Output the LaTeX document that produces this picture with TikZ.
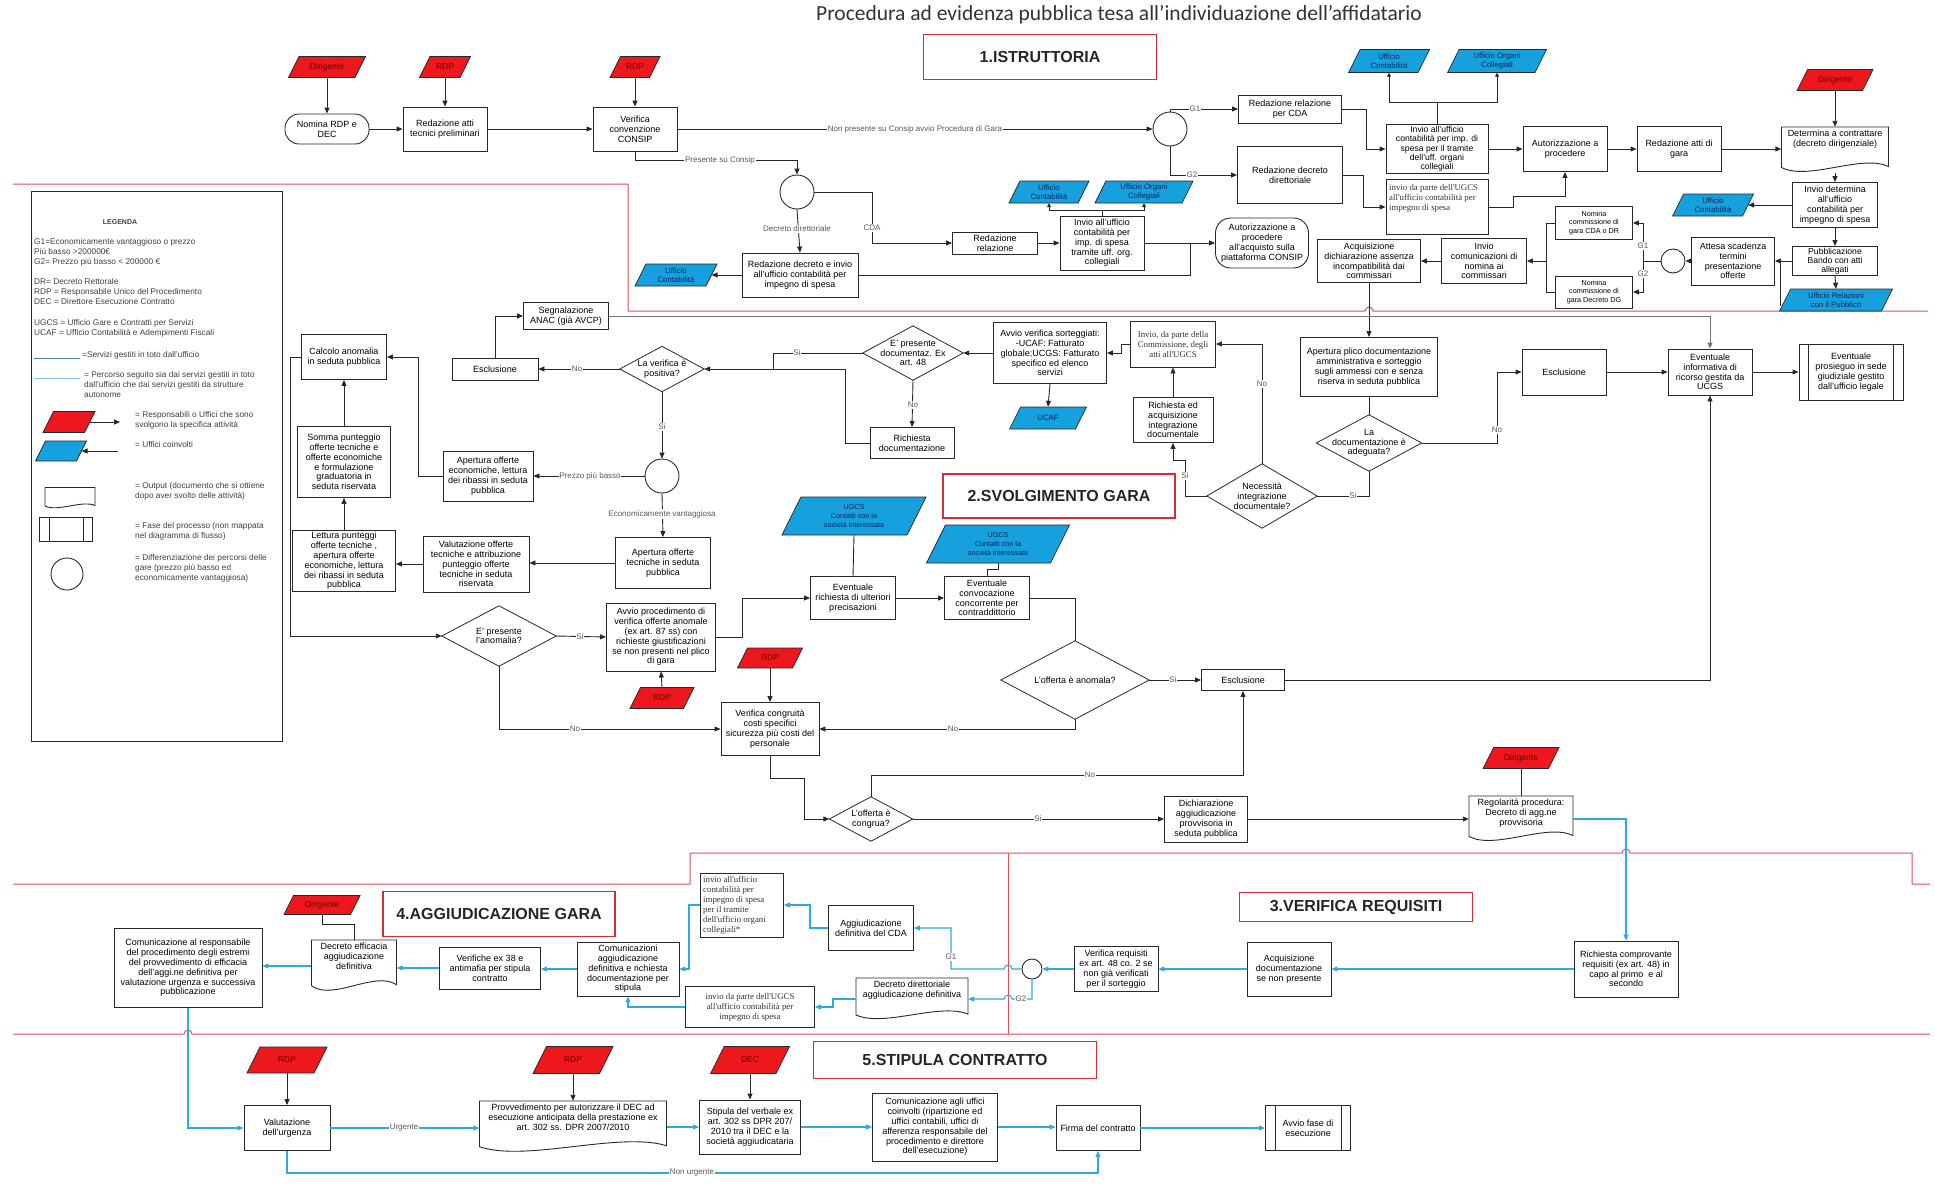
\documentclass[tikz,border=0pt]{standalone}
\usepackage{fontspec}
\setmainfont{Liberation Sans}
\newfontfamily\serifbox{Liberation Serif}
\newfontfamily\titlefont{Carlito}
\usetikzlibrary{arrows.meta,calc}

\definecolor{parred}{RGB}{236,24,30}
\definecolor{parblue}{RGB}{22,160,222}
\definecolor{redtext}{RGB}{110,0,0}
\definecolor{bluetext}{RGB}{10,40,90}
\definecolor{flowblue}{RGB}{45,170,222}
\definecolor{secred}{RGB}{226,78,88}
\definecolor{labred}{RGB}{212,45,55}
\definecolor{inkgray}{RGB}{40,40,40}
\definecolor{legblue}{RGB}{80,120,185}
\definecolor{legcyan}{RGB}{140,195,235}

\tikzset{
  wh/.style 2 args={minimum width=#1pt, minimum height=#2pt},
  boxfont/.style={font=\fontsize{9}{9.8}\selectfont},
  box/.style={draw=inkgray, line width=0.9pt, fill=white, align=center, inner sep=1pt, boxfont},
  small/.style={font=\fontsize{7.2}{8.6}\selectfont},
  circ/.style={draw=inkgray, line width=0.9pt, circle, inner sep=0pt, fill=white},
  ln/.style={draw=inkgray, line width=0.9pt},
  arr/.style={ln, -{Triangle[length=6pt,width=5pt]}},
  sarr/.style={ln, -{Triangle[length=4pt,width=4pt]}},
  bl/.style={draw=flowblue, line width=1.1pt},
  barr/.style={bl, -{Triangle[length=6pt,width=5pt]}},
  lbl/.style={fill=white, inner sep=0.8pt, font=\fontsize{8}{8.5}\selectfont, text=black!65},
  seclab/.style={draw=labred, line width=1.2pt, fill=white, font=\bfseries\fontsize{16}{18}\selectfont, text=black!85},
  secline/.style={draw=secred, line width=1pt},
  redtxt/.style={text=redtext, font=\fontsize{8.5}{9.5}\selectfont},
  bluetxt/.style={text=bluetext, font=\fontsize{7.8}{8.8}\selectfont},
  ugcstxt/.style={text=bluetext, font=\fontsize{7.2}{8.6}\selectfont},
  sertxt/.style={font=\serifbox\fontsize{8.8}{10}\selectfont, text=black!80, inner sep=0pt, align=left},
  legt/.style={font=\fontsize{8.3}{10}\selectfont, text=black!75, align=left, inner sep=0pt, anchor=west},
}

% parallelogram: name, cx, cy, width, height, fill colour, text style, text
\newcommand\mkpara[8]{%
  \filldraw[fill=#6, draw=inkgray, line width=0.7pt]
    ({#2-#4/2},{#3+#5/2}) -- ({#2-#4/2+#5/2},{#3-#5/2}) -- ({#2+#4/2},{#3-#5/2}) -- ({#2+#4/2-#5/2},{#3+#5/2}) -- cycle;
  \node[#7, align=center, inner sep=0pt, wh={#4}{#5}] (#1) at (#2,#3) {#8};
  \coordinate (#1-e) at ({#2+#4/2-#5/4},#3);
  \coordinate (#1-w) at ({#2-#4/2+#5/4},#3);
}
% document shape with wavy bottom: name, cx, cy, width, height, text
\newcommand\mkdoc[6]{%
  \draw[ln, fill=white] ({#2-#4/2},{#3-#5/2}) -- ({#2+#4/2},{#3-#5/2}) -- ({#2+#4/2},{#3+#5/2-0.14*#5})
     .. controls ({#2+#4/4},{#3+#5/2-0.42*#5}) and ({#2-#4/4},{#3+#5/2+0.18*#5}) .. ({#2-#4/2},{#3+#5/2-0.12*#5}) -- cycle;
  \node[inner sep=0pt, wh={#4}{#5}] (#1) at (#2,#3) {};
  \node[boxfont, align=center, inner sep=0pt, anchor=north] at (#2,{#3-#5/2+3}) {#6};
}
% decision diamond: name, cx, cy, width, height, text
\newcommand\mkdiam[6]{%
  \node[inner sep=0pt, wh={#4}{#5}, align=center, boxfont] (#1) at (#2,#3) {#6};
  \draw[ln, line width=0.8pt] (#1.north) -- (#1.east) -- (#1.south) -- (#1.west) -- cycle;
}
% predefined process: name, cx, cy, width, height, text
\newcommand\mkpredef[6]{%
  \node[box, wh={#4}{#5}] (#1) at (#2,#3) {#6};
  \draw[ln] ([xshift=10pt]#1.north west) -- ([xshift=10pt]#1.south west);
  \draw[ln] ([xshift=-10pt]#1.north east) -- ([xshift=-10pt]#1.south east);
}

\begin{document}
\begin{tikzpicture}[x=1pt,y=-1pt]
\path[use as bounding box] (0,0) rectangle (1935,1183);
\fill[white] (0,0) rectangle (1935,1183);

% ---------- section boundaries ----------
\draw[secline] (13,184) -- (628,184) -- (628,311) -- (1365,311) arc[start angle=180,end angle=0,radius=4pt] -- (1928,311);
\draw[secline] (13,884) -- (690,884) -- (690,853) -- (1622,853) arc[start angle=180,end angle=0,radius=4pt] -- (1912,853) -- (1912,884) -- (1930,884);
\draw[secline] (1008,853) -- (1008,1034);
\draw[secline] (13,1034) -- (184,1034) arc[start angle=180,end angle=0,radius=4pt] -- (1930,1034);

% ---------- title and phase labels ----------
\node[font=\titlefont\fontsize{21.5}{23}\selectfont, text=black!80] (title) at (1119,15) {Procedura ad evidenza pubblica tesa all’individuazione dell’affidatario};
\node[seclab, wh={233}{45}] (lab1) at (1040,57) {1.ISTRUTTORIA};

% ---------- legend ----------
\node[draw=inkgray, line width=1pt, wh={251}{550}] (legend) at (156.5,466) {};
\node[font=\bfseries\fontsize{7}{8}\selectfont, text=black!75] (legtitle) at (120,222) {LEGENDA};
\node[legt] (lg1) at (34,252) {G1=Economicamente vantaggioso o prezzo\\Più basso >200000€\\G2= Prezzo più basso < 200000 €};
\node[legt] (lg2) at (34,292) {DR= Decreto Rettorale\\RDP = Responsabile Unico del Procedimento\\DEC = Direttore Esecuzione Contratto};
\node[legt] (lg3) at (34,328.5) {UGCS = Ufficio Gare e Contratti per Servizi\\UCAF = Ufficio Contabilità e Adempimenti Fiscali};
\draw[draw=legblue, line width=0.8pt] (34,358) -- (80,358);
\node[legt] (lg4) at (82,355) {=Servizi gestiti in toto dall'ufficio};
\draw[draw=legcyan, line width=0.8pt] (34,378) -- (80,378);
\node[legt] (lg5) at (84,385) {= Percorso seguito sia dai servizi gestiti in toto\\dall'ufficio che dai servizi gestiti da strutture\\autonome};
\mkpara{legr}{69}{422}{52}{21}{parred}{redtxt}{}
\draw[arr] (legr-e) -- (120,422);
\node[legt] (lg6) at (135,420) {= Responsabili o Uffici che sono\\svolgono la specifica attività};
\mkpara{legb}{61}{451}{51}{20}{parblue}{bluetxt}{}
\draw[arr] (118,451) -- (legb-e);
\node[legt] (lg7) at (135,445) {= Uffici coinvolti};
\mkdoc{legd}{70}{498}{50}{21}{}
\node[legt] (lg8) at (135,491) {= Output (documento che si ottiene\\dopo aver svolto delle attività)};
\mkpredef{legp}{66}{529}{53}{24}{}
\node[legt] (lg9) at (135,531) {= Fase del processo (non mappata\\nel diagramma di flusso)};
\node[circ, minimum size=32pt] (legc) at (67,574) {};
\node[legt] (lg10) at (135,568) {= Differenziazione dei percorsi delle\\gare (prezzo più basso ed\\economicamente vantaggiosa)};

% ---------- 1. istruttoria ----------
\mkpara{dirA}{327}{67}{77}{21}{parred}{redtxt}{Dirigente}
\mkpara{rdpA}{445}{67}{51}{21}{parred}{redtxt}{RDP}
\node[box, wh={84}{30}, rounded corners=14pt] (nomina) at (327,129) {Nomina RDP e\\DEC};
\node[box, wh={84}{44}] (redatti) at (445,129) {Redazione atti\\tecnici preliminari};
\mkpara{rdpB}{635}{67}{50}{21}{parred}{redtxt}{RDP}
\node[box, wh={84}{44}] (consip) at (635,129) {Verifica\\convenzione\\CONSIP};
\node[circ, minimum size=34pt] (cA) at (1170,129) {};
\node[circ, minimum size=34pt] (cB) at (797,192) {};
\node[box, wh={116}{44}] (reddec) at (800,275) {Redazione decreto e invio\\all'ufficio contabilità per\\impegno di spesa};
\mkpara{ucA}{676}{275}{82}{22}{parblue}{bluetxt}{Ufficio\\Contabilità}
\node[box, wh={85}{22}] (redrel) at (995,243) {Redazione\\relazione};
\node[box, wh={84}{54}] (invcoll) at (1102,243) {Invio all'ufficio\\contabilità per\\imp. di spesa\\tramite uff. org.\\collegiali};
\mkpara{ucB}{1049}{192}{80}{22}{parblue}{bluetxt}{Ufficio\\Contabilità}
\mkpara{uoB}{1144}{192}{98}{22}{parblue}{bluetxt}{Ufficio Organi\\Collegiali}
\node[box, wh={93}{50}, rounded corners=15pt] (autcons) at (1262,243) {Autorizzazione a\\procedere\\all'acquisto sulla\\piattaforma CONSIP};
\node[box, wh={103}{28}] (relcda) at (1290,109) {Redazione relazione\\per CDA};
\node[box, wh={105}{57}] (decdir) at (1290,175) {Redazione decreto\\direttoriale};
\node[box, wh={102}{49}, font=\fontsize{8.6}{9.3}\selectfont] (invorg) at (1437,149) {Invio all'ufficio\\contabilità per imp. di\\spesa per il tramite\\dell'uff. organi\\collegiali};
\mkpara{ucC}{1389}{61}{81}{23}{parblue}{bluetxt}{Ufficio\\Contabilità}
\mkpara{uoC}{1497}{61}{99}{23}{parblue}{bluetxt}{Ufficio Organi\\Collegiali}
\node[box, wh={102}{55}] (invugcs) at (1437,207) {};
\node[sertxt, anchor=north west] (invugcst) at (1389,184) {invio da parte dell'UGCS\\all'ufficio contabilità per\\impegno di spesa};
\node[box, wh={84}{45}] (autproc) at (1565,149) {Autorizzazione a\\procedere};
\node[box, wh={84}{45}] (redgara) at (1679,149) {Redazione atti di\\gara};
\mkpara{dirB}{1835}{80}{76}{21}{parred}{redtxt}{Dirigente}
\mkdoc{determ}{1835}{150}{107}{46}{Determina a contrattare\\(decreto dirigenziale)}
\node[box, wh={85}{45}] (invdet) at (1835,205) {Invio determina\\all'ufficio\\contabilità per\\impegno di spesa};
\mkpara{ucD}{1713}{205}{81}{22}{parblue}{bluetxt}{Ufficio\\Contabilità}
\node[box, wh={85}{29}, font=\fontsize{8.6}{9.2}\selectfont] (pubbl) at (1835,261) {Pubblicazione\\Bando con atti\\allegati};
\mkpara{urp}{1836}{300}{113}{22}{parblue}{bluetxt}{Ufficio Relazioni\\con il Pubblico}
\node[box, wh={83}{48}] (attesa) at (1733,261) {Attesa scadenza\\termini\\presentazione\\offerte};
\node[circ, minimum size=24pt] (cC) at (1673,261) {};
\node[box, small, wh={77}{33}] (nomcda) at (1594,223) {Nomina\\commissione di\\gara CDA o DR};
\node[box, small, wh={77}{32}] (nomdg) at (1594,292) {Nomina\\commissione di\\gara Decreto DG};
\node[box, wh={85}{45}] (invcom) at (1484,261) {Invio\\comunicazioni di\\nomina ai\\commissari};
\node[box, wh={103}{43}] (acqdich) at (1369,261) {Acquisizione\\dichiarazione assenza\\incompatibilità dai\\commissari};

% ---------- 2. svolgimento gara ----------
\node[box, wh={85}{27}] (segn) at (566,316) {Segnalazione\\ANAC (già AVCP)};
\node[box, wh={86}{22}] (escla) at (495,369) {Esclusione};
\mkdiam{dverif}{662}{369}{84}{45}{La verifica è\\positiva?}
\mkdiam{dpres}{913}{353}{100}{54}{E' presente\\documentaz. Ex\\art. 48}
\node[box, wh={84}{31}] (richdoc) at (912,443) {Richiesta\\documentazione};
\node[box, wh={113}{61}] (avviover) at (1050,353) {Avvio verifica sorteggiati:\\-UCAF: Fatturato\\globale;UCGS: Fatturato\\specifico ed elenco\\servizi};
\mkpara{ucaf}{1048}{418}{77}{22}{parblue}{bluetxt}{UCAF}
\node[box, sertxt, align=center, wh={85}{46}] (invcomm) at (1173,344) {Invio, da parte della\\Commissione, degli\\atti all'UGCS};
\node[box, wh={80}{45}] (richint) at (1173,420) {Richiesta ed\\acquisizione\\integrazione\\documentale};
\mkdiam{dnec}{1262}{496}{110}{64}{Necessità\\integrazione\\documentale?}
\mkdiam{ddoc}{1369}{443}{105}{56}{La\\documentazione è\\adeguata?}
\node[box, wh={137}{59}] (aperplico) at (1369,367) {Apertura plico documentazione\\amministrativa e sorteggio\\sugli ammessi con e senza\\riserva in seduta pubblica};
\node[box, wh={84}{46}] (esclb) at (1564,372) {Esclusione};
\node[box, wh={84}{46}] (evinf) at (1710,372) {Eventuale\\informativa di\\ricorso gestita da\\UCGS};
\mkpredef{evpros}{1851}{372}{104}{56}{Eventuale\\prosieguo in sede\\giudiziale gestito\\dall'ufficio legale}
\node[box, wh={85}{45}] (calcolo) at (344,357) {Calcolo anomalia\\in seduta pubblica};
\node[box, wh={93}{71}] (somma) at (344,462) {Somma punteggio\\offerte tecniche e\\offerte economiche\\e formulazione\\graduatoria in\\seduta riservata};
\node[box, wh={103}{61}] (lettura) at (344,561) {Lettura punteggi\\offerte tecniche ,\\apertura offerte\\economiche, lettura\\dei ribassi in seduta\\pubblica};
\node[box, wh={106}{56}] (valut) at (476,564) {Valutazione offerte\\tecniche e attribuzione\\punteggio offerte\\tecniche in seduta\\riservata};
\node[box, wh={90}{50}] (aperecon) at (488,476) {Apertura offerte\\economiche, lettura\\dei ribassi in seduta\\pubblica};
\node[circ, minimum size=34pt] (cD) at (662,476) {};
\node[box, wh={95}{51}] (apertec) at (663,563) {Apertura offerte\\tecniche in seduta\\pubblica};
\mkdiam{danom}{499}{636}{114}{60}{E' presente\\l'anomalia?}
\node[box, wh={109}{68}] (avvioproc) at (661,637) {Avvio procedimento di\\verifica offerte anomale\\(ex art. 87 ss) con\\richieste giustificazioni\\se non presenti nel plico\\di gara};
\mkpara{rdpC}{662}{698}{64}{21}{parred}{redtxt}{RDP}
\node[box, wh={98}{53}] (vcong) at (770,729) {Verifica congruità\\costi specifici\\sicurezza più costi del\\personale};
\mkpara{rdpD}{770}{658}{65}{20}{parred}{redtxt}{RDP}
\node[box, wh={85}{43}] (evrich) at (853,598) {Eventuale\\richiesta di ulteriori\\precisazioni};
\mkpara{ugcsA}{854}{516}{144}{38}{parblue}{ugcstxt}{UGCS\\Contatti con la\\società interessata}
\node[box, wh={85}{43}] (evconv) at (987,598) {Eventuale\\convocazione\\concorrente per\\contraddittorio};
\mkpara{ugcsB}{998}{544}{143}{38}{parblue}{ugcstxt}{UGCS\\Contatti con la\\società interessata}
\node[seclab, wh={232}{44}] (lab2) at (1059,496) {2.SVOLGIMENTO GARA};
\mkdiam{danml}{1075}{680}{148}{78}{L'offerta è anomala?}
\node[box, wh={83}{21}] (esclc) at (1243,680) {Esclusione};
\mkdiam{dcong}{871}{819}{83}{44}{L'offerta è\\congrua?}
\node[box, wh={83}{46}] (dichagg) at (1206,819) {Dichiarazione\\aggiudicazione\\provvisoria in\\seduta pubblica};
\mkdoc{regol}{1521}{819}{104}{46}{Regolarità procedura:\\Decreto di agg.ne\\provvisoria}
\mkpara{dirC}{1521}{758}{76}{21}{parred}{redtxt}{Dirigente}

% ---------- 3. verifica requisiti ----------
\node[seclab, wh={233}{29}] (lab3) at (1356,907) {3.VERIFICA REQUISITI};
\node[box, wh={104}{56}] (richcomp) at (1626,969) {Richiesta comprovante\\requisiti (ex art. 48) in\\capo al primo\ \ e al\\secondo};
\node[box, wh={84}{54}] (acqdoc) at (1289,969) {Acquisizione\\documentazione\\se non presente};
\node[box, wh={84}{45}] (verreq) at (1116,969) {Verifica requisiti\\ex art. 48 co. 2 se\\non già verificati\\per il sorteggio};
\node[circ, minimum size=20pt] (cE) at (1032,969) {};

% ---------- 4. aggiudicazione gara ----------
\node[seclab, wh={232}{45}] (lab4) at (499,914) {4.AGGIUDICAZIONE GARA};
\node[box, wh={85}{45}] (aggcda) at (871,928) {Aggiudicazione\\definitiva del CDA};
\node[box, wh={83}{64}] (invorgb) at (742,905) {};
\node[sertxt, anchor=north west] (invorgbt) at (703,876) {invio all'ufficio\\contabilità per\\impegno di spesa\\per il tramite\\dell'ufficio organi\\collegiali*};
\mkdoc{decdirb}{912}{999}{112}{42}{Decreto direttoriale\\aggiudicazione definitiva}
\node[box, sertxt, align=center, wh={129}{41}] (invugcsb) at (750,1007) {invio da parte dell'UGCS\\all'ufficio contabilità per\\impegno di spesa};
\node[box, wh={102}{54}] (comagg) at (628,969) {Comunicazioni\\aggiudicazione\\definitiva e richiesta\\documentazione per\\stipula};
\node[box, wh={101}{42}] (verif38) at (490,968) {Verifiche ex 38 e\\antimafia per stipula\\contratto};
\mkdoc{decreff}{354}{966}{85}{52}{Decreto efficacia\\aggiudicazione\\definitiva}
\mkpara{dirD}{322}{905}{76}{19}{parred}{redtxt}{Dirigente}
\node[box, wh={148}{79}] (comresp) at (188,968) {Comunicazione al responsabile\\del procedimento degli estremi\\del provvedimento di efficacia\\dell'aggi.ne definitiva per\\valutazione urgenza e successiva\\pubblicazione};

% ---------- 5. stipula contratto ----------
\node[seclab, wh={283}{37}] (lab5) at (955,1060) {5.STIPULA CONTRATTO};
\node[box, wh={86}{45}] (valurg) at (287,1128) {Valutazione\\dell'urgenza};
\mkpara{rdpE}{287}{1060}{80}{26}{parred}{redtxt}{RDP}
\mkdoc{provv}{573}{1127}{187}{52}{Provvedimento per autorizzare il DEC ad\\esecuzione anticipata della prestazione ex\\art. 302 ss. DPR 2007/2010}
\mkpara{rdpF}{573}{1060}{80}{27}{parred}{redtxt}{RDP}
\node[box, wh={101}{54}] (stipula) at (750,1127) {Stipula del verbale ex\\art. 302 ss DPR 207/\\2010 tra il DEC e la\\società aggiudicataria};
\mkpara{decA}{750}{1060}{79}{27}{parred}{redtxt}{DEC}
\node[box, wh={125}{68}] (comuff) at (935,1127) {Comunicazione agli uffici\\coinvolti (ripartizione ed\\uffici contabili, uffici di\\afferenza responsabile del\\procedimento e direttore\\dell'esecuzione)};
\node[box, wh={84}{45}] (firma) at (1098,1128) {Firma del contratto};
\mkpredef{avvfase}{1308}{1128}{85}{45}{Avvio fase di\\esecuzione}

% ---------- connectors: 1 ----------
\draw[arr] (dirA.south) -- (nomina.north);
\draw[arr] (rdpA.south) -- (redatti.north);
\draw[arr] (nomina.east) -- (redatti.west);
\draw[arr] (redatti.east) -- (consip.west);
\draw[arr] (rdpB.south) -- (consip.north);
\draw[arr] (consip.east) -- (cA.west);
\draw[arr] (consip.south) -- (635,160) -| (cB.north);
\draw[arr] (cB.south) -- (reddec.north);
\draw[arr] (cB.east) -- (872,192) |- (redrel.west);
\draw[arr] (reddec.west) -- (ucA-e);
\draw[ln] (reddec.east) -- (1190,275) -- (1190,243);
\draw[arr] (redrel.east) -- (invcoll.west);
\draw[arr] (invcoll.east) -- (autcons.west);
\draw[ln] (invcoll.north) -- (1102,210);
\draw[sarr] (1102,210) -| (ucB.south);
\draw[sarr] (1102,210) -| (uoB.south);
\draw[arr] (cA.north) |- (relcda.west);
\draw[arr] (cA.south) |- (decdir.west);
\draw[arr] (relcda.east) -- (1366,109) |- (invorg.west);
\draw[arr] (decdir.east) -- (1363,175) |- (invugcs.west);
\draw[ln] (invorg.north) -- (1437,102);
\draw[sarr] (1437,102) -| (ucC.south);
\draw[sarr] (1437,102) -| (uoC.south);
\draw[arr] (invorg.east) -- (autproc.west);
\draw[arr] (invugcs.east) -- (1513,207) -- (1513,196) -| (autproc.south);
\draw[arr] (autproc.east) -- (redgara.west);
\draw[arr] (redgara.east) -- (redgara.east -| determ.west);
\draw[arr] (dirB.south) -- (determ.north);
\draw[arr] (determ.south) -- (invdet.north);
\draw[arr] (invdet.west) -- (ucD-e);
\draw[arr] (invdet.south) -- (pubbl.north);
\draw[arr] (pubbl.west) -- (attesa.east);
\draw[arr] (pubbl.south) -- (urp.north);
\draw[ln] (1780,261) -- (1780,306);
\draw[arr] (attesa.west) -- (cC.east);
\draw[ln] (cC.west) -- (1643,261);
\draw[arr] (1643,261) |- (nomcda.east);
\draw[arr] (1643,261) |- (nomdg.east);
\draw[ln] (nomcda.west) -- (1546,223) |- (nomdg.west);
\draw[arr] (1546,261) -- (invcom.east);
\draw[arr] (invcom.west) -- (acqdich.east);
\draw[arr] (acqdich.south) -- (aperplico.north);

% ---------- connectors: 2 ----------
\draw[arr, draw=black!55] (segn.east) -| (evinf.north);
\draw[arr] (escla.north) |- (segn.west);
\draw[arr] (dverif.west) -- (escla.east);
\draw[ln] (dpres.west) -- (773,353) -- (773,369);
\draw[arr] (richdoc.west) -- (845,443) |- (dverif.east);
\draw[arr] (dpres.south) -- (richdoc.north);
\draw[arr] (avviover.west) -- (dpres.east);
\draw[arr] (avviover.south) -- (ucaf.north);
\draw[arr] (invcomm.west) -- (1121,344) -- (1121,353) -- (avviover.east);
\draw[arr] (richint.north) -- (invcomm.south);
\draw[arr] (dnec.north) |- (invcomm.east);
\draw[arr] (dnec.west) -- (1185,496) -- (1185,460) -- (1173,460) -- (richint.south);
\draw[ln] (ddoc.south) |- (dnec.east);
\draw[ln] (aperplico.south) -- (ddoc.north);
\draw[arr] (ddoc.east) -- (1497,443) |- (esclb.west);
\draw[arr] (esclb.east) -- (evinf.west);
\draw[arr] (evinf.east) -- (evpros.west);
\draw[arr] (aperecon.west) -- (418,476) |- (calcolo.east);
\draw[arr] (calcolo.west) -- (290,357) |- (danom.west);
\draw[arr] (somma.north) -- (calcolo.south);
\draw[arr] (lettura.north) -- (somma.south);
\draw[arr] (valut.west) -- (valut.west -| lettura.east);
\draw[arr] (dverif.south) -- (cD.north);
\draw[arr] (cD.west) -- (aperecon.east);
\draw[arr] (cD.south) -- (apertec.north);
\draw[arr] (apertec.west) -- (apertec.west -| valut.east);
\draw[arr] (danom.east) -- (avvioproc.west);
\draw[arr] (rdpC.north) -- (avvioproc.south);
\draw[arr] (danom.south) |- (vcong.west);
\draw[arr] (rdpD.south) -- (vcong.north);
\draw[arr] (avvioproc.east) -- (742,637) |- (evrich.west);
\draw[ln] (ugcsA.south) -- (evrich.north);
\draw[arr] (evrich.east) -- (evconv.west);
\draw[ln] (ugcsB.south) -- (998,569) -- (987,569) -- (evconv.north);
\draw[ln] (evconv.east) -| (danml.north);
\draw[arr] (danml.east) -- (esclc.west);
\draw[arr] (danml.south) |- (vcong.east);
\draw[arr] (esclc.east) -| (evinf.south);
\draw[arr] (vcong.south) -- (770,778) -- (804,778) |- (dcong.west);
\draw[arr] (dcong.north) -- (871,775) -| (esclc.south);
\draw[arr] (dcong.east) -- (dichagg.west);
\draw[arr] (dichagg.east) -- (regol.west);
\draw[ln] (dirC.south) -- (regol.north);
\draw[barr] (regol.east) -- (1626,819) -- (richcomp.north);

% ---------- connectors: 3 and 4 ----------
\draw[barr] (richcomp.west) -- (acqdoc.east);
\draw[barr] (acqdoc.west) -- (verreq.east);
\draw[barr] (verreq.west) -- (cE.east);
\draw[barr] (cE.west) -- (1012,969) arc[start angle=0,end angle=180,radius=4pt] -- (951,969) |- (aggcda.east);
\draw[barr] (cE.south) -- (1032,999) -- (1012,999) arc[start angle=0,end angle=180,radius=4pt] -- (decdirb.east);
\draw[barr] (aggcda.west) -- (810,928) |- (invorgb.east);
\draw[barr] (invorgb.west) -- (689,905) |- (comagg.east);
\draw[barr] (decdirb.west) -- (833,999) |- (invugcsb.east);
\draw[barr] (invugcsb.west) -| (comagg.south);
\draw[barr] (comagg.west) -- (comagg.west -| verif38.east);
\draw[barr] (verif38.west) -- (verif38.west -| decreff.east);
\draw[ln] (dirD.south) -- (322,924) -| (decreff.north);
\draw[barr] (decreff.west) -- (decreff.west -| comresp.east);
\draw[barr] (comresp.south) |- (valurg.west);

% ---------- connectors: 5 ----------
\draw[arr] (rdpE.south) -- (valurg.north);
\draw[barr] (valurg.east) -- (valurg.east -| provv.west);
\draw[barr] (valurg.south) -- (287,1173) -| (firma.south);
\draw[arr] (rdpF.south) -- (provv.north);
\draw[barr] (provv.east) -- (provv.east -| stipula.west);
\draw[arr] (decA.south) -- (stipula.north);
\draw[barr] (stipula.east) -- (stipula.east -| comuff.west);
\draw[barr] (comuff.east) -- (comuff.east -| firma.west);
\draw[barr] (firma.east) -- (avvfase.west);

% ---------- connector labels ----------
\node[lbl] at (915,129) {Non presente su Consip avvio Procedura di Gara};
\node[lbl] at (720,160) {Presente su Consip};
\node[lbl] at (797,229) {Decreto direttoriale};
\node[lbl] at (872,228) {CDA};
\node[lbl] at (1195,109) {G1};
\node[lbl] at (1192,175) {G2};
\node[lbl] at (1643,246) {G1};
\node[lbl] at (1643,274) {G2};
\node[lbl] at (577,369) {No};
\node[lbl] at (797,353) {Si};
\node[lbl] at (913,405) {No};
\node[lbl] at (1262,384) {No};
\node[lbl] at (1185,476) {Si};
\node[lbl] at (1353,496) {Si};
\node[lbl] at (1497,430) {No};
\node[lbl] at (662,427) {Si};
\node[lbl] at (590,476) {Prezzo più basso};
\node[lbl] at (662,514) {Economicamente vantaggiosa};
\node[lbl] at (580,637) {Si};
\node[lbl] at (575,729) {No};
\node[lbl] at (953,729) {No};
\node[lbl] at (1173,680) {Si};
\node[lbl] at (1090,775) {No};
\node[lbl] at (1038,819) {Si};
\node[lbl] at (951,957) {G1};
\node[lbl] at (1021,999) {G2};
\node[lbl] at (404,1128) {Urgente};
\node[lbl] at (692,1173) {Non urgente};
\end{tikzpicture}
\end{document}
